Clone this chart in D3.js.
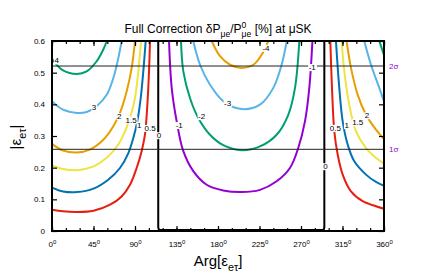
<!DOCTYPE html>
<html>
<head>
<meta charset="utf-8">
<script src="https://cdn.jsdelivr.net/npm/d3@7"></script>
<style>
body { margin: 0; background: #fff; }
svg { display: block; font-family: "Liberation Sans", Arial, sans-serif; }
</style>
</head>
<body>
<svg id="chart" width="436" height="273"></svg>
<script>
// contour lines: [arg (deg), |eps_etau|]
var p05Left  = [[0,0.067],[12,0.062],[27,0.060],[45,0.064],[63,0.083],[75.5,0.109],[84.6,0.146],[91.8,0.199],[97.2,0.252],[100.8,0.304],[103.4,0.399],[105.2,0.504],[106.3,0.6]];
var p05Right = [[301.8,0.6],[303.6,0.452],[306.1,0.315],[309.8,0.241],[315.2,0.178],[324.2,0.125],[336.9,0.094],[351.3,0.078],[360,0.07]];
var p1Left   = [[0,0.137],[12,0.125],[27,0.123],[45,0.134],[61,0.162],[73.7,0.199],[82.8,0.246],[88.2,0.294],[92.5,0.346],[96.2,0.42],[99,0.504],[101.6,0.6]];
var p1Right  = [[307.9,0.6],[311.5,0.452],[315.2,0.346],[320.6,0.273],[327.8,0.22],[340.5,0.178],[351.3,0.155],[360,0.143]];
var p15Left  = [[0,0.207],[12,0.196],[27,0.192],[45,0.204],[59.3,0.231],[71.9,0.273],[79.2,0.315],[84.6,0.357],[90,0.42],[93.6,0.504],[96.5,0.6]];
var p15Right = [[314.1,0.6],[317,0.504],[322.3,0.399],[329.6,0.315],[340.5,0.262],[351.3,0.231],[360,0.212]];
var p2Left   = [[0,0.275],[12,0.254],[27,0.248],[41,0.257],[55.6,0.288],[66.5,0.331],[73.7,0.373],[81,0.441],[86.4,0.515],[90,0.6]];
var p2Right  = [[319.5,0.6],[324.2,0.515],[331.5,0.43],[340.5,0.367],[351.3,0.32],[360,0.29]];
var p3Left   = [[0,0.41],[12,0.383],[27,0.373],[37.6,0.376],[48.4,0.394],[59.3,0.43],[66.5,0.483],[71.9,0.546],[75.5,0.6]];
var p3Right  = [[338.6,0.6],[345.9,0.525],[354.9,0.452],[360,0.41]];
var p4Left   = [[0,0.544],[12,0.507],[27,0.496],[37.6,0.504],[48.4,0.536],[55.6,0.573],[59.5,0.6]];
var p4Right  = [[354.9,0.6],[360,0.555]];
var zeroLine = [[115.2,0.6],[115.2,0.012],[115.8,0.005],[117.2,0.003],[293.3,0.003],[294.7,0.005],[295.3,0.012],[295.3,0.6]];
var m1Line   = [[126.9,0.6],[129.8,0.452],[135.2,0.346],[142.4,0.252],[153.2,0.189],[167.7,0.146],[185.7,0.128],[205.7,0.123],[225.5,0.13],[243.6,0.157],[258,0.199],[267,0.262],[274.3,0.346],[279,0.452],[282.4,0.6]];
var m2Line   = [[139.9,0.6],[142.4,0.504],[149.6,0.42],[158.6,0.357],[171.3,0.304],[185.7,0.271],[205.7,0.255],[225.5,0.267],[243.6,0.304],[256.2,0.367],[263.5,0.452],[268.2,0.6]];
var m3Line   = [[153.2,0.6],[160.5,0.525],[171.3,0.462],[185.7,0.41],[205.7,0.385],[225.5,0.399],[240,0.452],[249,0.525],[254.5,0.6]];
var m4Line   = [[173.2,0.6],[182.2,0.552],[193,0.525],[205.7,0.515],[218.3,0.525],[227.4,0.557],[234.5,0.6]];

// contour label text and where it sits (data coords)
var contourLabels = [
    ['4', 5.1, 0.538], ['3', 45.5, 0.392], ['2', 73, 0.362], ['1.5', 85.7, 0.351], ['1', 94.7, 0.334],
    ['0.5', 106.3, 0.325], ['0', 116, 0.302], ['-1', 138, 0.334], ['-2', 162.3, 0.362], ['-3', 190.5, 0.404],
    ['-4', 232, 0.578], ['-1', 282.2, 0.517], ['0', 296.5, 0.204], ['0.5', 307.2, 0.325], ['1', 319.5, 0.334],
    ['1.5', 331.5, 0.343], ['2', 341.6, 0.365]
];

var sigmaValues = [0.258, 0.521];
var sigmaLabels = ['1σ', '2σ'];
var xMajorTicks = [0, 45, 90, 135, 180, 225, 270, 315, 360];
var xMinorTicks = d3.range(0, 361, 15);
var yTicks = [0, 0.1, 0.2, 0.3, 0.4, 0.5, 0.6];

var svg = d3.select('#chart'),
    margin = { top: 41, right: 52, bottom: 42, left: 52 },
    width = 436 - margin.left - margin.right,
    height = 273 - margin.top - margin.bottom;

var x = d3.scaleLinear().domain([0, 360]).range([margin.left, margin.left + width]);
var y = d3.scaleLinear().domain([0, 0.6]).range([margin.top + height, margin.top]);

svg.append('defs').append('clipPath').attr('id', 'clip')
    .append('rect')
    .attr('x', margin.left).attr('y', margin.top)
    .attr('width', width).attr('height', height);

var contours = [
    { pts: p05Left, color: '#e51e10' }, { pts: p05Right, color: '#e51e10' },
    { pts: p1Left, color: '#0072b2' }, { pts: p1Right, color: '#0072b2' },
    { pts: p15Left, color: '#f0e442' }, { pts: p15Right, color: '#f0e442' },
    { pts: p2Left, color: '#e69f00' }, { pts: p2Right, color: '#e69f00' },
    { pts: p3Left, color: '#56b4e9' }, { pts: p3Right, color: '#56b4e9' },
    { pts: p4Left, color: '#009e73' }, { pts: p4Right, color: '#009e73' },
    { pts: m1Line, color: '#9400d3' }, { pts: m2Line, color: '#009e73' },
    { pts: m3Line, color: '#56b4e9' }, { pts: m4Line, color: '#e69f00' }
];

var line = d3.line()
    .x(function (d) { return x(d[0]); })
    .y(function (d) { return y(d[1]); })
    .curve(d3.curveCatmullRom.alpha(0.5));

var plot = svg.append('g').attr('clip-path', 'url(#clip)');

plot.selectAll('path.contour')
    .data(contours)
    .enter().append('path')
    .attr('class', 'contour')
    .attr('d', function (d) { return line(d.pts); })
    .attr('fill', 'none')
    .attr('stroke', function (d) { return d.color; })
    .attr('stroke-width', 2);

plot.append('path')
    .attr('d', d3.line().x(function (d) { return x(d[0]); }).y(function (d) { return y(d[1]); })(zeroLine))
    .attr('fill', 'none')
    .attr('stroke', '#000')
    .attr('stroke-width', 2)
    .attr('stroke-linejoin', 'round');

// 1 sigma / 2 sigma levels
plot.selectAll('line.sigma')
    .data(sigmaValues)
    .enter().append('line')
    .attr('class', 'sigma')
    .attr('x1', x(0)).attr('x2', x(360))
    .attr('y1', function (d) { return y(d); })
    .attr('y2', function (d) { return y(d); })
    .attr('stroke', '#222')
    .attr('stroke-width', 1);

svg.selectAll('text.sigma')
    .data(sigmaValues)
    .enter().append('text')
    .attr('class', 'sigma')
    .attr('x', x(360) + 5)
    .attr('y', function (d) { return y(d); })
    .attr('dy', '0.35em')
    .attr('font-size', 8)
    .attr('fill', '#9400d3')
    .text(function (d, i) { return sigmaLabels[i]; });

// contour labels on white boxes
var lab = svg.selectAll('g.clabel')
    .data(contourLabels)
    .enter().append('g')
    .attr('class', 'clabel')
    .attr('transform', function (d) { return 'translate(' + x(d[1]) + ',' + y(d[2]) + ')'; });
lab.append('rect').attr('fill', '#fff');
lab.append('text')
    .attr('text-anchor', 'middle')
    .attr('dy', '0.35em')
    .attr('font-size', 8)
    .text(function (d) { return d[0]; });
lab.each(function () {
    var g = d3.select(this), b = g.select('text').node().getBBox();
    g.select('rect').attr('x', b.x - 0.5).attr('y', b.y + 1).attr('width', b.width + 1).attr('height', b.height - 2);
});

// axes: inward ticks on all four sides
function tidy(g) { g.select('.domain').remove(); g.selectAll('line').attr('stroke', '#000').attr('stroke-width', 1.2); }

svg.append('g')
    .attr('transform', 'translate(0,' + y(0) + ')')
    .call(d3.axisBottom(x).tickValues(xMinorTicks).tickSizeInner(-3).tickSizeOuter(0).tickFormat(''))
    .call(tidy);
svg.append('g')
    .attr('transform', 'translate(0,' + y(0.6) + ')')
    .call(d3.axisTop(x).tickValues(xMinorTicks).tickSizeInner(-3).tickSizeOuter(0).tickFormat(''))
    .call(tidy);
var xAx = svg.append('g')
    .attr('transform', 'translate(0,' + y(0) + ')')
    .call(d3.axisBottom(x).tickValues(xMajorTicks).tickSizeInner(-5).tickSizeOuter(0).tickPadding(10))
    .call(tidy);
xAx.selectAll('text')
    .attr('font-size', 8).attr('font-family', null).attr('fill', '#000')
    .each(function (d) {
        var t = d3.select(this);
        t.text(d);
        t.append('tspan').attr('dy', '-0.45em').attr('font-size', 6).text('0');
    });
svg.append('g')
    .attr('transform', 'translate(0,' + y(0.6) + ')')
    .call(d3.axisTop(x).tickValues(xMajorTicks).tickSizeInner(-5).tickSizeOuter(0).tickFormat(''))
    .call(tidy);

var yAx = svg.append('g')
    .attr('transform', 'translate(' + x(0) + ',0)')
    .call(d3.axisLeft(y).tickValues(yTicks).tickSizeInner(-5).tickSizeOuter(0).tickPadding(7)
        .tickFormat(function (d) { return d === 0 ? '0' : d3.format('.1f')(d); }))
    .call(tidy);
yAx.selectAll('text').attr('font-size', 8).attr('font-family', null).attr('fill', '#000');
svg.append('g')
    .attr('transform', 'translate(' + x(360) + ',0)')
    .call(d3.axisRight(y).tickValues(yTicks).tickSizeInner(-5).tickSizeOuter(0).tickFormat(''))
    .call(tidy);

svg.append('rect')
    .attr('x', margin.left).attr('y', margin.top)
    .attr('width', width).attr('height', height)
    .attr('fill', 'none').attr('stroke', '#000').attr('stroke-width', 2);

// text with sub/superscripts; 'subBack' stacks under the previous superscript
function rich(t, parts, size) {
    var off = 0, prevLen = 0;
    parts.forEach(function (p) {
        var mode = p[1], small = mode !== '',
            target = (mode === 'sub' || mode === 'subBack') ? size * 0.3 : (mode === 'sup' ? -size * 0.45 : 0);
        var ts = t.append('tspan')
            .attr('dy', target - off)
            .attr('font-size', small ? size * 0.72 : size)
            .text(p[0]);
        if (mode === 'subBack') ts.attr('dx', -prevLen);
        off = target;
        prevLen = ts.node().getComputedTextLength();
    });
}

rich(svg.append('text').attr('x', 218).attr('y', 33).attr('text-anchor', 'middle'),
    [['Full Correction δP', ''], ['μe', 'sub'], ['/P', ''], ['0', 'sup'], ['μe', 'subBack'], [' [%] at μSK', '']], 12);

rich(svg.append('text').attr('x', 218).attr('y', 266).attr('text-anchor', 'middle'),
    [['Arg[ε', ''], ['eτ', 'sub'], [']', '']], 15);

rich(svg.append('text').attr('transform', 'translate(21,137) rotate(-90)').attr('text-anchor', 'middle'),
    [['|ε', ''], ['eτ', 'sub'], ['|', '']], 15);
</script>
</body>
</html>
